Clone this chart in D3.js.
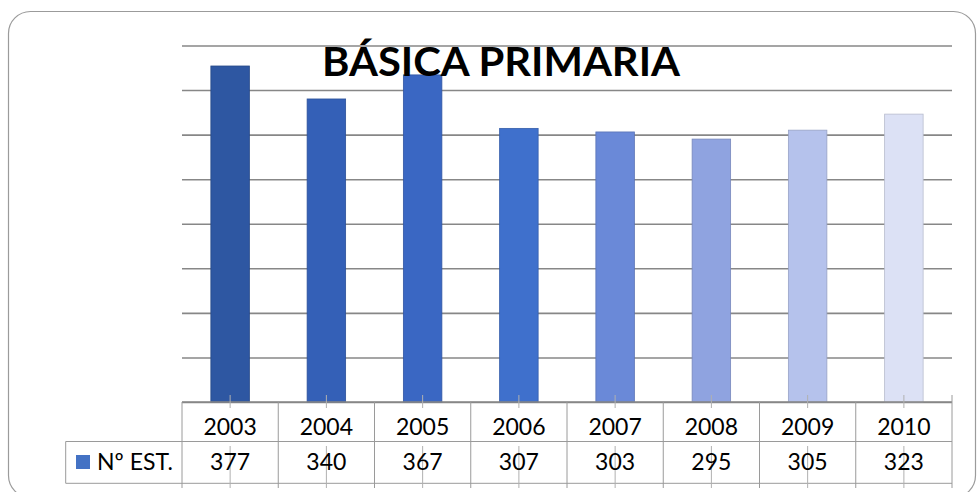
<!DOCTYPE html>
<html>
  <head>
    <meta charset="utf-8">
    <title>Básica primaria</title>
    <style>
    body { margin: 0; border: 0; overflow: hidden; background: #fff; }
    text { font-family: Lato, "Open Sans", sans-serif; }
    .grid line { stroke: #878787; stroke-width: 1.6px; }
    .grid path { display: none; }
    .tbl line { stroke: #9a9a9a; stroke-width: 1px; }
    .cell { font-size: 23px; fill: #000; text-anchor: middle; }
    </style>
  </head>
  <body>
    <script src="https://cdnjs.cloudflare.com/ajax/libs/d3/7.8.5/d3.min.js"></script>
    <script>
// data
var years = ["2003", "2004", "2005", "2006", "2007", "2008", "2009", "2010"];
var students = [377, 340, 367, 307, 303, 295, 305, 323];
var seriesName = "Nº EST.";
var title = "BÁSICA PRIMARIA";
var yTicks = [0, 50, 100, 150, 200, 250, 300, 350, 400];

var barColors = ["#2e57a2", "#3460b7", "#3a67c3", "#3f70cc", "#6a89d8", "#8fa3e0", "#b5c2ec", "#dce1f5"];

var width = 977, height = 492;
var plot = {left: 182, right: 952, top: 45.5, bottom: 402};
var row1 = 441.5, row2 = 483.3, legendLeft = 65.7;

var svg = d3.select("body").append("svg")
    .attr("width", width)
    .attr("height", height);

// chart area border
svg.append("rect")
    .attr("x", 8.5).attr("y", 11.5)
    .attr("width", 967).attr("height", 486)
    .attr("rx", 22).attr("ry", 22)
    .attr("fill", "#fff")
    .attr("stroke", "#9b9b9b")
    .attr("stroke-width", 1.2);

var x = d3.scaleBand().domain(years).range([plot.left, plot.right]).padding(0);
var y = d3.scaleLinear().domain([0, 400]).range([plot.bottom, plot.top]);

// gridlines
svg.append("g")
    .attr("class", "grid")
    .attr("transform", "translate(" + plot.left + ",0)")
    .call(d3.axisLeft(y).tickValues(yTicks).tickSize(-(plot.right - plot.left)).tickFormat(""));

// bars
var barW = x.bandwidth() * 0.4;
svg.selectAll("rect.bar")
    .data(years)
    .enter().append("rect")
    .attr("class", "bar")
    .attr("x", function(d) { return x(d) + (x.bandwidth() - barW) / 2; })
    .attr("y", function(d, i) { return y(students[i]); })
    .attr("width", barW)
    .attr("height", function(d, i) { return y(0) - y(students[i]); })
    .attr("fill", function(d, i) { return barColors[i]; })
    .attr("stroke", function(d, i) { return d3.color(barColors[i]).darker(0.5); })
    .attr("stroke-width", 0.8);

// data table
var tbl = svg.append("g").attr("class", "tbl");

tbl.append("line")
    .attr("x1", plot.left).attr("x2", plot.right)
    .attr("y1", plot.bottom).attr("y2", plot.bottom)
    .style("stroke", "#878787").style("stroke-width", "1.6px");
tbl.append("line")
    .attr("x1", legendLeft).attr("x2", plot.right)
    .attr("y1", row1).attr("y2", row1);
tbl.append("line")
    .attr("x1", legendLeft).attr("x2", plot.right)
    .attr("y1", row2).attr("y2", row2);
tbl.append("line")
    .attr("x1", legendLeft).attr("x2", legendLeft)
    .attr("y1", row1).attr("y2", row2);

// column boundaries
var edges = years.map(function(d) { return x(d); }).concat([plot.right]);
tbl.selectAll("line.edge")
    .data(edges)
    .enter().append("line")
    .attr("class", "edge")
    .attr("x1", function(d) { return d; }).attr("x2", function(d) { return d; })
    .attr("y1", function(d, i) { return i == edges.length - 1 ? 395 : plot.bottom; })
    .attr("y2", 488);

// category tick marks
years.forEach(function(d) {
  var cx = x(d) + x.bandwidth() / 2;
  tbl.append("line").attr("x1", cx).attr("x2", cx).attr("y1", 395).attr("y2", 408)
    .style("stroke", "#b0b0b0");
  tbl.append("line").attr("x1", cx).attr("x2", cx).attr("y1", 446).attr("y2", 488)
    .style("stroke", "#b0b0b0");
});

svg.selectAll("text.year")
    .data(years)
    .enter().append("text")
    .attr("class", "cell year")
    .attr("x", function(d) { return x(d) + x.bandwidth() / 2; })
    .attr("y", 435)
    .text(function(d) { return d; });

svg.selectAll("text.val")
    .data(students)
    .enter().append("text")
    .attr("class", "cell val")
    .attr("x", function(d, i) { return x(years[i]) + x.bandwidth() / 2; })
    .attr("y", 470)
    .text(function(d) { return d; });

// legend key
svg.append("rect")
    .attr("x", 76).attr("y", 455)
    .attr("width", 14).attr("height", 14)
    .attr("fill", "#4472c4");
svg.append("text")
    .attr("x", 97).attr("y", 470)
    .style("font-size", "23px")
    .text(seriesName);

// title
svg.append("text")
    .attr("x", 501).attr("y", 76)
    .attr("text-anchor", "middle")
    .attr("textLength", 358)
    .attr("lengthAdjust", "spacingAndGlyphs")
    .style("font-size", "40px")
    .style("font-weight", "bold")
    .text(title);
    </script>
  </body>
</html>
